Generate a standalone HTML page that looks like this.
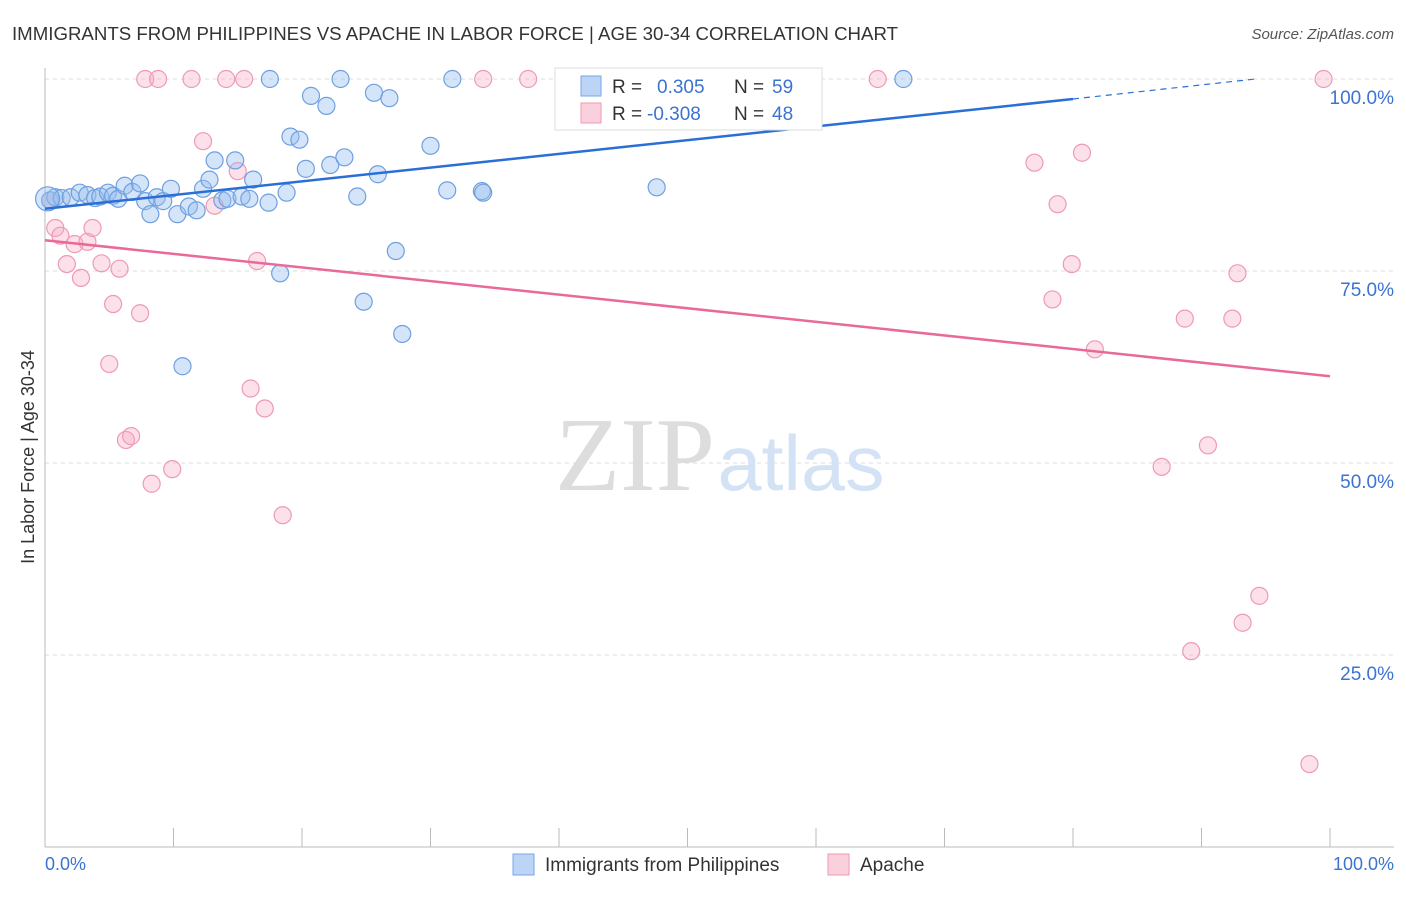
<!DOCTYPE html>
<html><head><meta charset="utf-8"><style>
body{margin:0;background:#fff;font-family:"Liberation Sans",sans-serif}
</style></head><body>
<svg width="1406" height="892" viewBox="0 0 1406 892" xmlns="http://www.w3.org/2000/svg">
<text x="12" y="40" font-size="18" fill="#333" textLength="886" lengthAdjust="spacingAndGlyphs">IMMIGRANTS FROM PHILIPPINES VS APACHE IN LABOR FORCE | AGE 30-34 CORRELATION CHART</text>
<text x="1394" y="39" font-size="15" fill="#555" font-style="italic" text-anchor="end">Source: ZipAtlas.com</text>
<g id="grid"></g>
<text x="635" y="490" font-size="105" fill="#ddd" font-family="Liberation Serif,serif" text-anchor="middle" textLength="160" lengthAdjust="spacingAndGlyphs">ZIP</text>
<text x="801" y="490" font-size="78" fill="#d3e2f5" text-anchor="middle" textLength="167" lengthAdjust="spacingAndGlyphs">atlas</text>
<g id="pts"></g>
<g id="lines"></g>
<text transform="translate(34,457) rotate(-90)" font-size="18" fill="#333" text-anchor="middle">In Labor Force | Age 30-34</text>
<text x="45" y="870" font-size="18" fill="#3b73d0">0.0%</text>
<text x="1394" y="870" font-size="18" fill="#3b73d0" text-anchor="end">100.0%</text>
<g>
<rect x="555" y="68" width="267" height="62" fill="#fff" stroke="#ddd"/>
<rect x="581" y="76" width="20" height="20" fill="#bcd4f5" stroke="#7aa6e6"/>
<rect x="581" y="103" width="20" height="20" fill="#fbd0dd" stroke="#ee9ab4"/>
<text x="612" y="93" font-size="19" fill="#333">R = <tspan fill="#3b73d0" x="657">0.305</tspan><tspan fill="#333" x="734">N = </tspan><tspan fill="#3b73d0" x="772">59</tspan></text>
<text x="612" y="120" font-size="19" fill="#333">R = <tspan fill="#3b73d0" x="647">-0.308</tspan><tspan fill="#333" x="734">N = </tspan><tspan fill="#3b73d0" x="772">48</tspan></text>
</g>
<g>
<rect x="513" y="854" width="21" height="21" fill="#bcd4f5" stroke="#7aa6e6"/>
<text x="545" y="871" font-size="19" fill="#333">Immigrants from Philippines</text>
<rect x="828" y="854" width="21" height="21" fill="#fbd0dd" stroke="#ee9ab4"/>
<text x="860" y="871" font-size="19" fill="#333">Apache</text>
</g>
</svg>
<script>
const yTicks=[25,50,75,100];
const yTickLabels=["25.0%","50.0%","75.0%","100.0%"];
const xTicks=[0,10,20,30,40,50,60,70,80,90,100];
const blueX=[0.4,0.8,1.3,2,2.7,3.3,3.9,4.3,4.9,5.3,5.7,6.2,6.8,7.4,7.8,8.2,8.7,9.2,9.8,10.3,11.2,11.8,12.3,12.8,13.2,13.8,14.2,14.8,15.3,15.9,16.2,17.4,17.5,18.3,18.8,19.1,19.8,20.3,20.7,21.9,22.2,23,23.3,24.3,24.8,25.6,25.9,26.8,27.3,27.8,30,31.3,31.7,34,34.1,47.6,66.8,10.7,0.2];
const blueY=[84.2,84.6,84.5,84.6,85.2,84.9,84.5,84.7,85.2,84.8,84.4,86.1,85.3,86.4,84.1,82.4,84.6,84.1,85.7,82.4,83.4,82.9,85.7,86.9,89.4,84.2,84.4,89.4,84.7,84.4,86.9,83.9,100,74.7,85.2,92.5,92.1,88.3,97.8,96.5,88.8,100,89.8,84.7,71,98.2,87.6,97.5,77.6,66.8,91.3,85.5,100,85.4,85.2,85.9,100,62.6,84.4];
const pinkX=[7.8,8.8,11.4,14.1,15.5,34.1,37.6,64.8,99.5,0.8,1.2,1.7,2.3,2.8,3.3,3.7,4.4,5.3,5.8,7.4,5,6.3,6.7,8.3,9.9,12.3,13.2,15,16,16.5,17.1,18.5,77,80.7,78.8,79.9,78.4,81.7,88.7,92.4,92.8,86.9,90.5,94.5,93.2,89.2,98.4,0.4];
const pinkY=[100,100,100,100,100,100,100,100,100,80.6,79.6,75.9,78.5,74.1,78.8,80.6,76,70.7,75.3,69.5,62.9,53,53.5,47.3,49.2,91.9,83.5,88,59.7,76.3,57.1,43.2,89.1,90.4,83.7,75.9,71.3,64.8,68.8,68.8,74.7,49.5,52.3,32.7,29.2,25.5,10.8,84.2];
const X=v=>45+v*12.85, Y=v=>847-v*7.68;
const NS="http://www.w3.org/2000/svg";
function mk(p,tag,a){const e=document.createElementNS(NS,tag);for(const k in a)e.setAttribute(k,a[k]);p.appendChild(e);return e;}
const g=document.getElementById('grid');
yTicks.forEach((t,i)=>{
 const l=mk(g,'line',{x1:45,x2:1394,y1:Y(t),y2:Y(t),stroke:'#ddd','stroke-dasharray':'4,4'});
 
 
 const tx=mk(g,'text',{x:1394,y:Y(t)+25,'font-size':19,fill:'#3b73d0','text-anchor':'end'});
 tx.textContent=yTickLabels[i];
 
 
});
const ax=mk(g,'line',{x1:45,x2:45,y1:68,y2:847,stroke:'#bbb'});


const bx=mk(g,'line',{x1:45,x2:1394,y1:847,y2:847,stroke:'#bbb'});


xTicks.forEach(t=>{
 const l=mk(g,'line',{x1:X(t),x2:X(t),y1:828,y2:847,stroke:'#bbb'});
 
 
});
const p=document.getElementById('pts');
pinkX.forEach((v,i)=>{
 const c=mk(p,'circle',{cx:X(v),cy:Y(pinkY[i]),r:8.5,fill:'rgba(245,170,195,0.35)',stroke:'#ee9ab4','stroke-width':1.2});
 
 
});
blueX.forEach((v,i)=>{
 const c=mk(p,'circle',{cx:X(v),cy:Y(blueY[i]),r:(i==blueX.length-1?12:8.5),fill:'rgba(150,190,240,0.4)',stroke:'#6f9fe0','stroke-width':1.2});
 
 
});
const L=document.getElementById('lines');
const b1=mk(L,'line',{x1:X(0),y1:Y(83.1),x2:X(80),y2:Y(97.4),stroke:'#2a6fd6','stroke-width':2.5});


const b2=mk(L,'line',{x1:X(80),y1:Y(97.4),x2:X(94.2),y2:Y(100),stroke:'#2a6fd6','stroke-width':1.2,'stroke-dasharray':'6,5'});


const p1=mk(L,'line',{x1:X(0),y1:Y(79),x2:X(100),y2:Y(61.3),stroke:'#e8699a','stroke-width':2.5});


</script>
</body></html>
